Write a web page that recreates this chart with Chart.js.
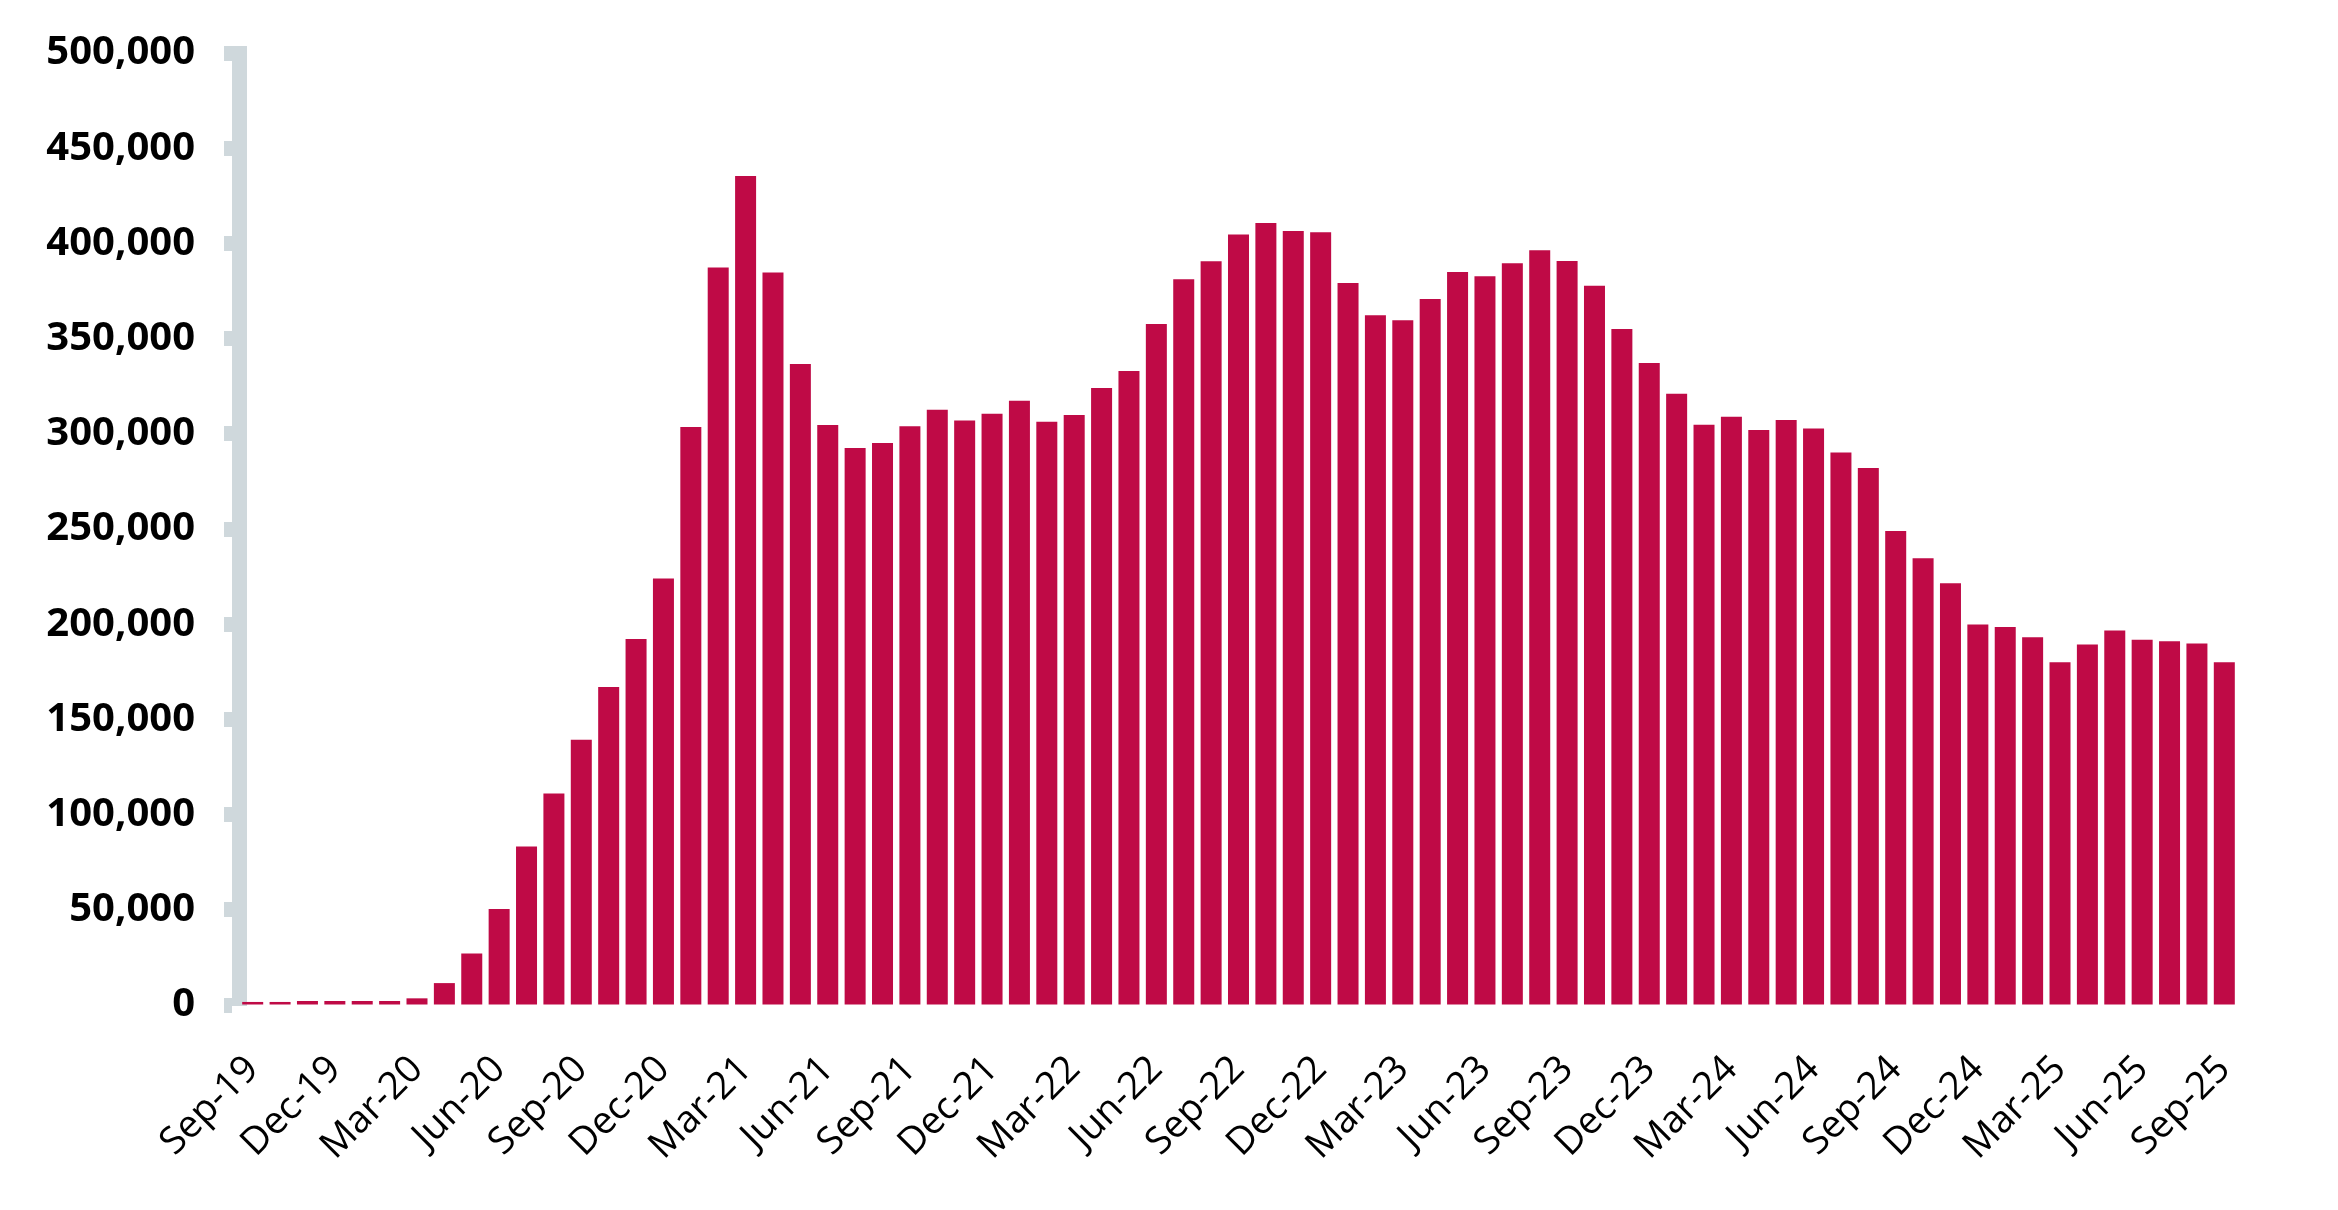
<!DOCTYPE html>
<html>
<head>
<meta charset="utf-8">
<script src="https://cdn.jsdelivr.net/npm/chart.js@4.4.1/dist/chart.umd.min.js"></script>
<style>
  html, body { margin: 0; padding: 0; background: #fff; }
  #wrap { width: 2338px; height: 1210px; }
</style>
</head>
<body>
<div id="wrap"><canvas id="chart" width="2338" height="1210"></canvas></div>
<script>
// monthly values, Sep-19 .. Sep-25
const months = [
  'Sep-19','Oct-19','Nov-19','Dec-19','Jan-20','Feb-20','Mar-20','Apr-20','May-20','Jun-20','Jul-20','Aug-20',
  'Sep-20','Oct-20','Nov-20','Dec-20','Jan-21','Feb-21','Mar-21','Apr-21','May-21','Jun-21','Jul-21','Aug-21',
  'Sep-21','Oct-21','Nov-21','Dec-21','Jan-22','Feb-22','Mar-22','Apr-22','May-22','Jun-22','Jul-22','Aug-22',
  'Sep-22','Oct-22','Nov-22','Dec-22','Jan-23','Feb-23','Mar-23','Apr-23','May-23','Jun-23','Jul-23','Aug-23',
  'Sep-23','Oct-23','Nov-23','Dec-23','Jan-24','Feb-24','Mar-24','Apr-24','May-24','Jun-24','Jul-24','Aug-24',
  'Sep-24','Oct-24','Nov-24','Dec-24','Jan-25','Feb-25','Mar-25','Apr-25','May-25','Jun-25','Jul-25','Aug-25',
  'Sep-25'
];

const values = [
  1600, 1600, 2100, 2100, 2100, 2100, 3500, 11500, 27000, 50400, 83200, 111100,
  139300, 167000, 192200, 224000, 303600, 387400, 435400, 384700, 336700, 304600, 292500, 295200,
  304000, 312600, 307000, 310500, 317300, 306300, 309900, 324100, 333000, 357700, 381200, 390600,
  404700, 410700, 406500, 405900, 379200, 362300, 359700, 370800, 385000, 382800, 389600, 396400,
  390800, 377800, 355100, 337200, 321000, 304700, 309000, 302000, 307300, 302800, 290200, 282000,
  249000, 234600, 221500, 199900, 198500, 193200, 180000, 189400, 196700, 191800, 191000, 189900,
  180000
];

// only every third month gets a label
const labelEvery = 3;

const yMax = 500000;
const yStep = 50000;

const barColor = '#bf0a46';
const axisGrey = '#cfd8dc';

const ctx = document.getElementById('chart');

new Chart(ctx, {
  type: 'bar',
  data: {
    labels: months,
    datasets: [{
      data: values,
      backgroundColor: barColor,
      borderWidth: 0,
      barPercentage: 0.767,
      categoryPercentage: 1.0
    }]
  },
  options: {
    responsive: false,
    animation: false,
    devicePixelRatio: 1,
    layout: { padding: { left: 0, right: 100, top: 50, bottom: 0 } },
    plugins: {
      legend: { display: false },
      tooltip: { enabled: false }
    },
    scales: {
      x: {
        grid: { display: false, drawTicks: false },
        border: { display: false },
        ticks: {
          autoSkip: false,
          maxRotation: 45,
          minRotation: 45,
          padding: 42,
          color: '#000',
          font: { family: 'Open Sans', size: 38, weight: 'normal' },
          callback: function (val, idx) {
            return idx % labelEvery === 0 ? this.getLabelForValue(val) : '';
          }
        },
        afterFit: function (scale) { scale.height = 205; }
      },
      y: {
        min: 0,
        max: yMax,
        z: 1,
        grid: {
          drawOnChartArea: false,
          drawTicks: true,
          tickLength: 15,
          tickWidth: 15,
          color: axisGrey
        },
        border: { display: true, width: 15, color: axisGrey },
        ticks: {
          stepSize: yStep,
          padding: 29,
          color: '#000',
          font: { family: 'Open Sans', size: 40, weight: 'bold' },
          callback: v => v.toLocaleString('en-US')
        },
        afterFit: function (scale) { scale.width = 239; }
      }
    }
  }
});
</script>
</body>
</html>
